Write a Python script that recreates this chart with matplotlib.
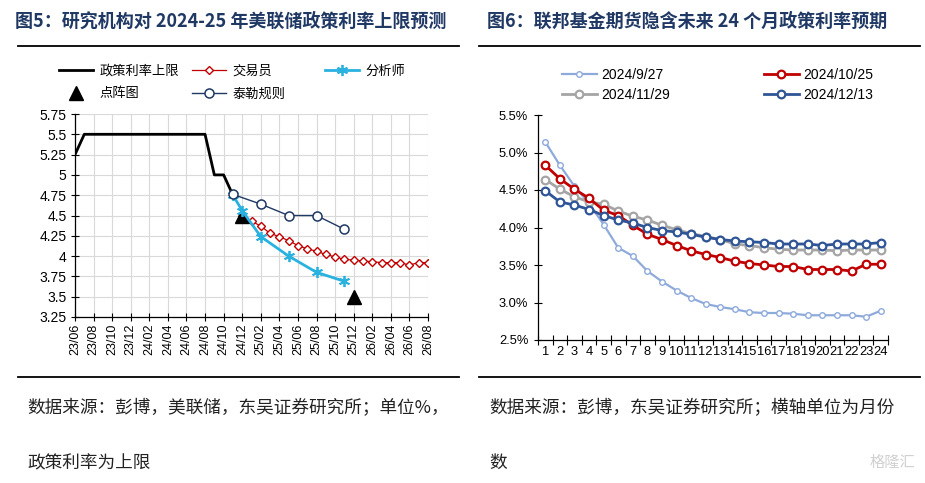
import matplotlib
matplotlib.use("Agg")
import matplotlib.pyplot as plt
from matplotlib.lines import Line2D
from matplotlib.ticker import FuncFormatter, FixedLocator

plt.rcParams['font.family'] = ['Liberation Sans', 'Noto Sans CJK SC', 'DejaVu Sans']
CJK = ['Noto Sans CJK SC', 'DejaVu Sans']

# ---------------- data: left chart ----------------
axis_months = ['23/06', '23/08', '23/10', '23/12', '24/02', '24/04', '24/06', '24/08', '24/10', '24/12',
               '25/02', '25/04', '25/06', '25/08', '25/10', '25/12', '26/02', '26/04', '26/06', '26/08']

policy_months = ['23/06', '23/07', '23/08', '23/09', '23/10', '23/11', '23/12', '24/01', '24/02',
                 '24/03', '24/04', '24/05', '24/06', '24/07', '24/08', '24/09', '24/10', '24/11']
policy_values = [5.25, 5.5, 5.5, 5.5, 5.5, 5.5, 5.5, 5.5, 5.5, 5.5, 5.5, 5.5, 5.5, 5.5, 5.5, 5.0, 5.0, 4.75]

trader_months = ['24/12', '25/01', '25/02', '25/03', '25/04', '25/05', '25/06', '25/07', '25/08', '25/09',
                 '25/10', '25/11', '25/12', '26/01', '26/02', '26/03', '26/04', '26/05', '26/06', '26/07', '26/08']
trader_values = [4.50, 4.43, 4.37, 4.28, 4.24, 4.19, 4.13, 4.09, 4.06, 4.02,
                 3.99, 3.96, 3.95, 3.94, 3.93, 3.92, 3.92, 3.92, 3.89, 3.92, 3.92]

analyst_months = ['24/11', '24/12', '25/02', '25/05', '25/08', '25/11']
analyst_values = [4.75, 4.56, 4.24, 4.00, 3.80, 3.69]

dot_months = ['24/12', '25/12']
dot_values = [4.5, 3.5]

taylor_months = ['24/11', '25/02', '25/05', '25/08', '25/11']
taylor_values = [4.76, 4.64, 4.50, 4.50, 4.33]

left_yticks = [3.25, 3.5, 3.75, 4, 4.25, 4.5, 4.75, 5, 5.25, 5.5, 5.75]

# ---------------- data: right chart ----------------
horizon = list(range(1, 25))
s_0927 = [5.14, 4.83, 4.55, 4.32, 4.04, 3.73, 3.62, 3.42, 3.28, 3.16, 3.06, 2.98,
          2.94, 2.91, 2.87, 2.86, 2.86, 2.85, 2.83, 2.83, 2.83, 2.83, 2.81, 2.89]
s_1025 = [4.83, 4.65, 4.51, 4.39, 4.23, 4.16, 4.03, 3.91, 3.84, 3.76, 3.69, 3.64,
          3.60, 3.55, 3.52, 3.50, 3.48, 3.48, 3.44, 3.44, 3.44, 3.42, 3.51, 3.51]
s_1129 = [4.64, 4.51, 4.41, 4.34, 4.31, 4.22, 4.15, 4.10, 4.03, 3.97, 3.92, 3.88,
          3.84, 3.78, 3.76, 3.73, 3.71, 3.70, 3.70, 3.70, 3.69, 3.70, 3.70, 3.70]
s_1213 = [4.49, 4.34, 4.30, 4.24, 4.16, 4.10, 4.06, 4.00, 3.96, 3.94, 3.91, 3.87,
          3.84, 3.82, 3.81, 3.80, 3.78, 3.78, 3.78, 3.76, 3.78, 3.78, 3.78, 3.80]
right_yticks = [2.5, 3.0, 3.5, 4.0, 4.5, 5.0, 5.5]


def midx(label):
    yy, mm = label.split('/')
    return (int(yy) - 23) * 12 + int(mm) - 6


def xs(labels):
    return [midx(m) for m in labels]


W, H = 925, 483
fig = plt.figure(figsize=(W / 100, H / 100), dpi=100)

# ---------------- titles, rules, notes ----------------
title_color = '#1f3864'
fig.text(15 / W, 1 - 21 / H, '图5：研究机构对 2024-25 年美联储政策利率上限预测', family=CJK,
         fontsize=13, fontweight='bold', color=title_color, va='center', ha='left')
fig.text(487 / W, 1 - 21 / H, '图6：联邦基金期货隐含未来 24 个月政策利率预期', family=CJK,
         fontsize=13, fontweight='bold', color=title_color, va='center', ha='left')
for (x0, x1) in [(18, 459), (479, 920)]:
    for y in [46, 377]:
        fig.add_artist(Line2D([x0 / W, x1 / W], [1 - y / H, 1 - y / H], color='black', lw=1.3))

note_kw = dict(family=CJK, fontsize=12.7, color='#222222', va='center', ha='left')
fig.text(27 / W, 1 - 408 / H, '数据来源：彭博，美联储，东吴证券研究所；单位%，', **note_kw)
fig.text(27 / W, 1 - 463 / H, '政策利率为上限', **note_kw)
fig.text(489 / W, 1 - 408 / H, '数据来源：彭博，东吴证券研究所；横轴单位为月份', **note_kw)
fig.text(489 / W, 1 - 463 / H, '数', **note_kw)
fig.text(915 / W, 1 - 462 / H, '格隆汇', family=CJK, fontsize=11, color='#d0d0d0',
         va='center', ha='right')

# ---------------- left chart ----------------
axL = fig.add_axes([75 / W, 1 - 317 / H, 353 / W, 203 / H])
axL.set_xlim(0, 38)
axL.set_ylim(3.25, 5.75)
axL.set_xticks(xs(axis_months))
axL.set_xticklabels(axis_months, rotation=90, fontsize=9)
axL.set_yticks(left_yticks)
axL.yaxis.set_major_formatter(FuncFormatter(lambda v, p: f'{v:g}'))
axL.tick_params(axis='y', labelsize=10, direction='inout', length=6, width=0.8, pad=3)
axL.tick_params(axis='x', direction='inout', length=6, width=0.8, pad=2)
axL.grid(True, color='#d9d9d9', lw=0.8)
axL.set_axisbelow(True)
for s in ['top', 'right']:
    axL.spines[s].set_visible(False)
for s in ['left', 'bottom']:
    axL.spines[s].set_color('black')
    axL.spines[s].set_linewidth(0.9)

h_pol, = axL.plot(xs(policy_months), policy_values, color='black', lw=2.0, label='政策利率上限', zorder=3)
h_tr, = axL.plot(xs(trader_months), trader_values, color='#c00000', lw=0.9, marker='D', ms=4,
                 mfc='white', mec='#c00000', mew=1.0, label='交易员', zorder=4)
h_dot, = axL.plot(xs(dot_months), dot_values, ls='none', marker='^', ms=10, color='black',
                  label='点阵图', zorder=5)
h_an, = axL.plot(xs(analyst_months), analyst_values, color='#29b2e0', lw=2.0, marker=(6, 2, 0),
                 ms=8, mew=1.3, label='分析师', zorder=6)
h_ty, = axL.plot(xs(taylor_months), taylor_values, color='#1f3864', lw=1.0, marker='o', ms=6.5,
                 mfc='white', mec='#1f3864', mew=1.1, label='泰勒规则', zorder=7)

legL_kw = dict(loc='upper left', frameon=False, prop={'family': CJK, 'size': 9.5},
               handlelength=2.6, handletextpad=0.5, labelspacing=0.75, borderpad=0)
fig.legend(handles=[h_pol, h_dot], labels=['政策利率上限', '点阵图'],
           bbox_to_anchor=(52 / W, 1 - 58 / H), **legL_kw)
fig.legend(handles=[h_tr, h_ty], labels=['交易员', '泰勒规则'],
           bbox_to_anchor=(185 / W, 1 - 58 / H), **legL_kw)
fig.legend(handles=[h_an], labels=['分析师'],
           bbox_to_anchor=(318 / W, 1 - 58 / H), **legL_kw)

# ---------------- right chart ----------------
axR = fig.add_axes([538 / W, 1 - 340 / H, 350 / W, 225 / H])
axR.set_xlim(0.5, 24.5)
axR.set_ylim(2.5, 5.5)
axR.set_yticks(right_yticks)
axR.yaxis.set_major_formatter(FuncFormatter(lambda v, p: f'{v:.1f}%'))
axR.xaxis.set_major_locator(FixedLocator([i + 0.5 for i in range(0, 25)]))
axR.set_xticklabels([])
axR.set_xticks(horizon, minor=True)
axR.set_xticklabels([str(h) for h in horizon], minor=True, fontsize=9.3)
axR.tick_params(axis='x', which='major', direction='inout', length=7, width=0.8)
axR.tick_params(axis='x', which='minor', length=0, pad=4)
axR.tick_params(axis='y', labelsize=9.3, direction='inout', length=6, width=0.8, pad=4)
for s in ['top', 'right']:
    axR.spines[s].set_visible(False)
for s in ['left', 'bottom']:
    axR.spines[s].set_color('black')
    axR.spines[s].set_linewidth(0.9)

r1, = axR.plot(horizon, s_0927, color='#8eaadb', lw=1.6, marker='o', ms=4, mfc='white',
               mec='#8eaadb', mew=1.0, label='2024/9/27', zorder=3)
r2, = axR.plot(horizon, s_1025, color='#c00000', lw=2.0, marker='o', ms=5.5, mfc='white',
               mec='#c00000', mew=1.6, label='2024/10/25', zorder=4)
r3, = axR.plot(horizon, s_1129, color='#a5a5a5', lw=2.0, marker='o', ms=5.5, mfc='white',
               mec='#a5a5a5', mew=1.6, label='2024/11/29', zorder=3)
r4, = axR.plot(horizon, s_1213, color='#2f5597', lw=2.0, marker='o', ms=5.5, mfc='white',
               mec='#2f5597', mew=1.6, label='2024/12/13', zorder=5)

legR_kw = dict(loc='upper left', frameon=False, prop={'size': 10}, handlelength=2.5,
               handletextpad=0.3, labelspacing=0.45, borderpad=0)
fig.legend(handles=[r1, r3], labels=['2024/9/27', '2024/11/29'],
           bbox_to_anchor=(555 / W, 1 - 61 / H), **legR_kw)
fig.legend(handles=[r2, r4], labels=['2024/10/25', '2024/12/13'],
           bbox_to_anchor=(757 / W, 1 - 61 / H), **legR_kw)

fig.savefig('out.png', dpi=100)
